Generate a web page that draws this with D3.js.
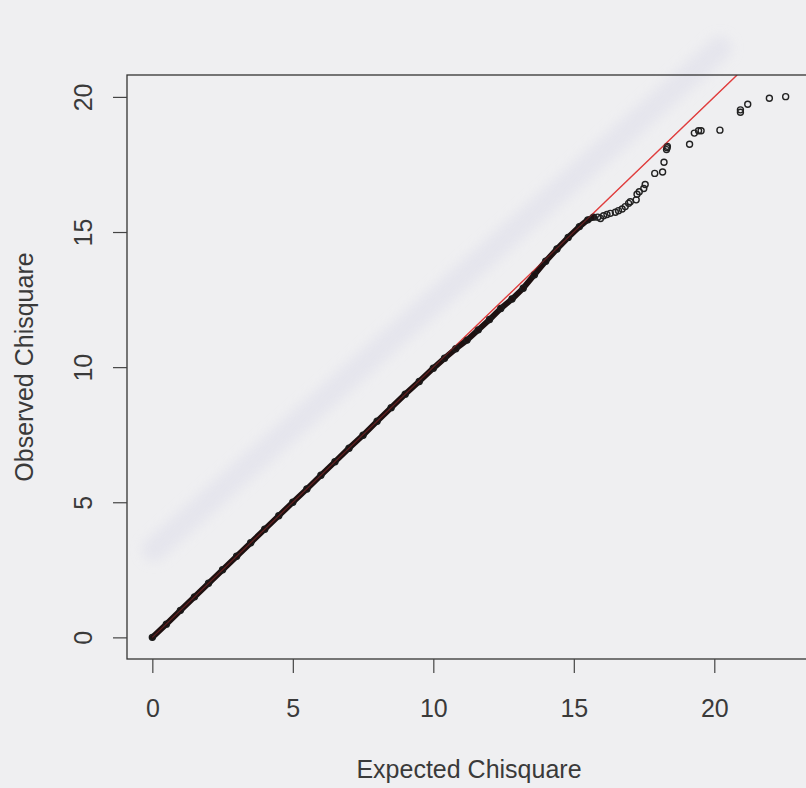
<!DOCTYPE html>
<html>
<head>
<meta charset="utf-8">
<script src="https://cdn.jsdelivr.net/npm/d3@7"></script>
<style>
  body { margin: 0; background: #efeff1; }
  svg { display: block; font-family: "Liberation Sans", Arial, sans-serif; }
</style>
</head>
<body>
<div id="chart"></div>
<script>
// dense part of the QQ plot (points overlap into a solid band)
const bandExpected = [0, 0.5, 1, 1.5, 2, 2.5, 3, 3.5, 4, 4.5, 5, 5.5, 6, 6.5, 7, 7.5, 8, 8.5, 9, 9.5, 10,
  10.4, 10.8, 11.2, 11.6, 12, 12.4, 12.8, 13.2, 13.6, 14, 14.4, 14.8, 15.2, 15.5, 15.7];
const bandObserved = [0, 0.49, 1.0, 1.5, 2.0, 2.5, 3.0, 3.5, 4.0, 4.5, 5.0, 5.49, 6.0, 6.5, 7.0, 7.48, 8.0, 8.5, 9.0, 9.47, 9.96,
  10.33, 10.68, 11.0, 11.38, 11.76, 12.17, 12.52, 12.92, 13.42, 13.92, 14.37, 14.8, 15.2, 15.45, 15.55];

// sparse upper tail, individual open circles
const tailExpected = [15.85, 15.95, 16.06, 16.18, 16.30, 16.48, 16.59, 16.72, 16.83, 16.95, 17.01, 17.22, 17.25, 17.33,
  17.49, 17.54, 17.88, 18.16, 18.21, 18.30, 18.32, 18.33, 19.12, 19.29, 19.44, 19.53, 20.20, 20.93, 20.93, 21.19, 21.96, 22.54];
const tailObserved = [15.55, 15.5, 15.6, 15.65, 15.69, 15.73, 15.79, 15.85, 15.94, 16.06, 16.12, 16.19, 16.40, 16.49,
  16.61, 16.76, 17.17, 17.22, 17.58, 18.05, 18.12, 18.17, 18.25, 18.66, 18.75, 18.75, 18.77, 19.43, 19.52, 19.73, 19.95, 20.01];

const xTicks = [0, 5, 10, 15, 20];
const yTicks = [0, 5, 10, 15, 20];

// faint show-through from the other side of the scanned page
const ghostX = [0.06, 20.2];
const ghostY = [3.25, 21.8];

const width = 806, height = 788;
const mLeft = 127, mTop = 75, mBottom = 659, mRight = 811;

const band = bandExpected.map((e, i) => ({e, o: bandObserved[i]}));
const tail = tailExpected.map((e, i) => ({e, o: tailObserved[i]}));
const all = band.concat(tail);

// R style 4% padding on the data range
function padded(ext) {
  const p = (ext[1] - ext[0]) * 0.04;
  return [ext[0] - p, ext[1] + p];
}
const x = d3.scaleLinear().domain(padded(d3.extent(all, d => d.e))).range([mLeft, mRight]);
const y = d3.scaleLinear().domain(padded(d3.extent(all, d => d.o))).range([mBottom, mTop]);

const svg = d3.select("#chart").append("svg")
  .attr("width", width)
  .attr("height", height);

const defs = svg.append("defs");
defs.append("filter").attr("id", "blur")
  .attr("x", "-20%").attr("y", "-20%").attr("width", "140%").attr("height", "140%")
  .append("feGaussianBlur").attr("stdDeviation", 6);
defs.append("clipPath").attr("id", "plotclip")
  .append("rect")
  .attr("x", mLeft).attr("y", mTop)
  .attr("width", mRight - mLeft).attr("height", mBottom - mTop);

svg.append("line")
  .attr("x1", x(ghostX[0])).attr("y1", y(ghostY[0]))
  .attr("x2", x(ghostX[1])).attr("y2", y(ghostY[1]))
  .attr("stroke", "#dedeea")
  .attr("stroke-width", 24)
  .attr("stroke-linecap", "round")
  .attr("opacity", 0.55)
  .attr("filter", "url(#blur)");

const plot = svg.append("g").attr("clip-path", "url(#plotclip)");

const lineGen = d3.line().x(d => x(d.e)).y(d => y(d.o));
const hi = Math.min(x.domain()[1], y.domain()[1]);

// reference line y = x
plot.append("line")
  .attr("x1", x(0)).attr("y1", y(0))
  .attr("x2", x(hi)).attr("y2", y(hi))
  .attr("stroke", "#e03c3c")
  .attr("stroke-width", 1.3);

plot.append("path")
  .datum(band)
  .attr("d", lineGen)
  .attr("fill", "none")
  .attr("stroke", "#1d1010")
  .attr("stroke-width", 5.8)
  .attr("stroke-linejoin", "round")
  .attr("stroke-linecap", "round");

plot.selectAll("circle.band")
  .data(band)
  .enter().append("circle")
  .attr("class", "band")
  .attr("cx", d => x(d.e))
  .attr("cy", d => y(d.o))
  .attr("r", 3)
  .attr("fill", "none")
  .attr("stroke", "#1a1a1a")
  .attr("stroke-width", 1.4);

plot.selectAll("circle.tail")
  .data(tail)
  .enter().append("circle")
  .attr("class", "tail")
  .attr("cx", d => x(d.e))
  .attr("cy", d => y(d.o))
  .attr("r", 3)
  .attr("fill", "none")
  .attr("stroke", "#222")
  .attr("stroke-width", 1.4);

// red tint of the line over the dark band
plot.append("line")
  .attr("x1", x(0)).attr("y1", y(0))
  .attr("x2", x(hi)).attr("y2", y(hi))
  .attr("stroke", "#e03c3c")
  .attr("stroke-width", 1.2)
  .attr("opacity", 0.35);

// box
svg.append("rect")
  .attr("x", mLeft).attr("y", mTop)
  .attr("width", mRight - mLeft).attr("height", mBottom - mTop)
  .attr("fill", "none")
  .attr("stroke", "#333")
  .attr("stroke-width", 1.3);

const xAxis = svg.append("g")
  .attr("transform", `translate(0,${mBottom})`)
  .call(d3.axisBottom(x).tickValues(xTicks).tickSize(14).tickPadding(26));
xAxis.select(".domain").remove();
xAxis.selectAll(".tick line").attr("stroke", "#444").attr("stroke-width", 1.2);
xAxis.selectAll(".tick text")
  .attr("font-size", 25).attr("fill", "#3a3a3a")
  .attr("font-family", "Liberation Sans, Arial, sans-serif");

const yAxis = svg.append("g")
  .attr("transform", `translate(${mLeft},0)`)
  .call(d3.axisLeft(y).tickValues(yTicks).tickSize(14));
yAxis.select(".domain").remove();
yAxis.selectAll(".tick line").attr("stroke", "#444").attr("stroke-width", 1.2);
yAxis.selectAll(".tick text")
  .attr("font-size", 25).attr("fill", "#3a3a3a")
  .attr("font-family", "Liberation Sans, Arial, sans-serif")
  .attr("text-anchor", "middle")
  .attr("x", 0)
  .attr("dy", 0)
  .attr("transform", "translate(-35,0) rotate(-90)");

svg.append("text")
  .attr("x", (mLeft + mRight) / 2)
  .attr("y", 778)
  .attr("text-anchor", "middle")
  .attr("font-size", 25)
  .attr("fill", "#3a3a3a")
  .text("Expected Chisquare");

svg.append("text")
  .attr("transform", `translate(33,${(mTop + mBottom) / 2}) rotate(-90)`)
  .attr("text-anchor", "middle")
  .attr("font-size", 25)
  .attr("fill", "#3a3a3a")
  .text("Observed Chisquare");
</script>
</body>
</html>
